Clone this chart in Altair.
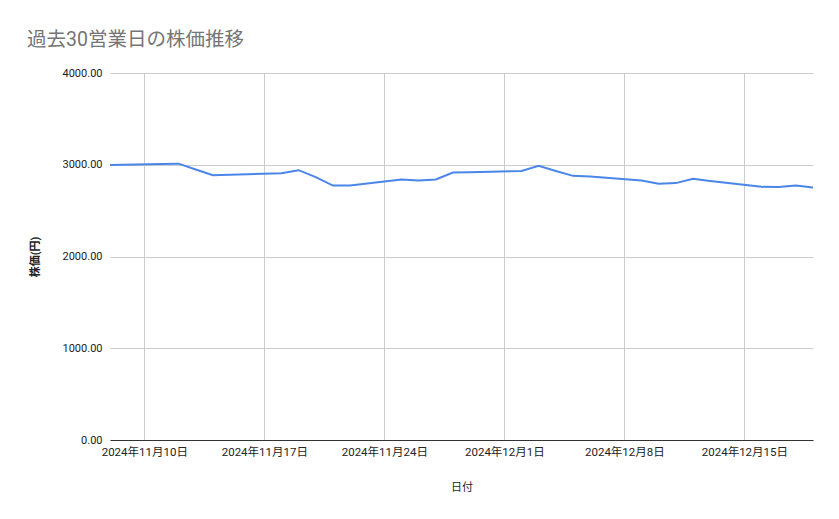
import altair as alt
import pandas as pd

dates = [
    "2024-11-08", "2024-11-11", "2024-11-12", "2024-11-13", "2024-11-14", "2024-11-15",
    "2024-11-18", "2024-11-19", "2024-11-20", "2024-11-21", "2024-11-22",
    "2024-11-25", "2024-11-26", "2024-11-27", "2024-11-28", "2024-11-29",
    "2024-12-02", "2024-12-03", "2024-12-04", "2024-12-05", "2024-12-06",
    "2024-12-09", "2024-12-10", "2024-12-11", "2024-12-12", "2024-12-13",
    "2024-12-16", "2024-12-17", "2024-12-18", "2024-12-19",
]
prices = [
    2998, 3008, 3012, 2948, 2886, 2892,
    2908, 2941, 2865, 2773, 2775,
    2839, 2828, 2839, 2915, 2918,
    2933, 2988, 2932, 2879, 2871,
    2828, 2792, 2800, 2847, 2822,
    2759, 2757, 2773, 2752,
]
y_ticks = [0, 1000, 2000, 3000, 4000]

df = pd.DataFrame({"date": dates, "price": prices})

FONT = "Roboto, 'Noto Sans CJK JP', sans-serif"

chart = alt.Chart(df).mark_line(color="#4a86e8", strokeWidth=2).encode(
    x=alt.X(
        "date:T",
        scale=alt.Scale(
            type="utc",
            domain=[
                alt.DateTime(year=2024, month=11, date=8, utc=True),
                alt.DateTime(year=2024, month=12, date=19, utc=True),
            ],
        ),
        axis=alt.Axis(
            title="日付",
            format="%Y年%-m月%-d日",
            tickCount={"interval": "week", "step": 1},
            grid=True,
            gridColor="#cccccc",
            domainColor="#333333",
            domainWidth=1,
            ticks=False,
            labelPadding=6,
            labelFontSize=11.5,
            labelColor="#222222",
            labelFont=FONT,
            titleFont=FONT,
            titleFontSize=11,
            titleFontWeight="normal",
            titleColor="#222222",
            titlePadding=24,
            labelOverlap=False,
        ),
    ),
    y=alt.Y(
        "price:Q",
        scale=alt.Scale(domain=[0, 4000], nice=False),
        axis=alt.Axis(
            title="株価(円)",
            values=y_ticks,
            format=".2f",
            grid=True,
            gridColor="#cccccc",
            domain=False,
            ticks=False,
            labelPadding=8,
            labelFontSize=11,
            labelColor="#222222",
            labelFont=FONT,
            titleFont=FONT,
            titleFontSize=11,
            titleFontWeight="bold",
            titleColor="#222222",
            titlePadding=22,
        ),
    ),
).properties(
    width=703,
    height=367,
    title=alt.TitleParams(
        "過去30営業日の株価推移",
        anchor="start",
        frame="group",
        dx=-83,
        offset=17,
        fontSize=19.5,
        fontWeight="normal",
        color="#757575",
        font=FONT,
    ),
    autosize=alt.AutoSizeParams(type="none"),
    padding={"left": 102, "top": 65, "right": 18, "bottom": 71},
).configure_view(stroke=None)

chart.save("out.html", embed_options={"renderer": "svg", "actions": False})
